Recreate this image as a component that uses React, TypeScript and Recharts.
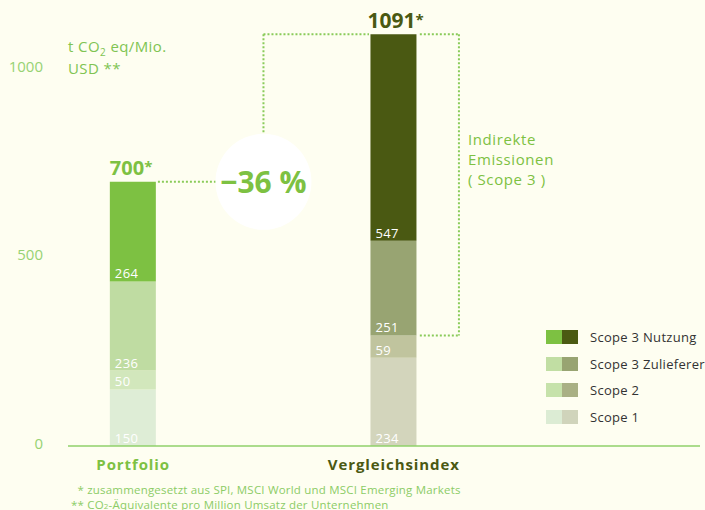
import React from 'react';
import { BarChart, Bar, XAxis, YAxis, Cell, LabelList, ReferenceLine, ReferenceDot } from 'recharts';

// ---- data ----
const categories = ['Portfolio', 'Vergleichsindex'];
const categoryPos = [1, 5];
const scope1 = [150, 234];
const scope2 = [50, 59];
const scope3Supply = [236, 251];
const scope3Use = [264, 547];
const totals = [700, 1091];
const yTicks = [0, 500, 1000];
const reductionLabel = '−36 %';
const legendNames = ['Scope 3 Nutzung', 'Scope 3 Zulieferer', 'Scope 2', 'Scope 1'];
const footnote1 = 'zusammengesetzt aus SPI, MSCI World und MSCI Emerging Markets';
const footnote2a = 'CO';
const footnote2b = '-Äquivalente pro Million Umsatz der Unternehmen';
const indirectLines = ['Indirekte', 'Emissionen', '( Scope 3 )'];

// ---- styles ----
const FONT = '"Open Sans", "Noto Sans", sans-serif';
const BG = '#fefef1';
const GREEN = '#7dc142';
const OLIVE = '#4a5912';
const TICK = '#97d273';
const DOT = '#8acb5a';
const colS1 = ['#deedd6', '#d3d5bc'];
const colS2 = ['#d2e7bc', '#c0c49e'];
const colSup = ['#bfdca2', '#98a472'];
const colUse = ['#7dc142', '#4a5912'];
const legendColors = [
  ['#7dc142', '#4b5a12'],
  ['#c1dea3', '#98a472'],
  ['#c6e2aa', '#a9b084'],
  ['#dcecd4', '#d0d4bb'],
];
const catColors = [GREEN, OLIVE];

const data = categories.map((name, i) => ({
  name,
  x: categoryPos[i],
  s1: scope1[i],
  s2: scope2[i],
  sup: scope3Supply[i],
  use: scope3Use[i],
  total: totals[i],
}));

// annotation anchors (data space)
const circleX = 3.0;
const circleY = totals[0];
const bracketX = 6.0;
const bracketBottom = scope1[1] + scope2[1];

const ValueLabel = (props: any) => {
  const { x, y, height, value } = props;
  return (
    <text x={Number(x) + 5} y={Number(y) + Number(height) - 3} fill="#ffffff" fontSize={13} letterSpacing={0.4} fontFamily={FONT}>
      {value}
    </text>
  );
};

const TotalLabel = (props: any) => {
  const { x, y, index } = props;
  const big = index === 1;
  return (
    <text
      x={Number(x) + (big ? -3 : 0)}
      y={Number(y) - (big ? 6 : 7)}
      fill={catColors[index]}
      fontSize={big ? 21 : 20}
      fontWeight={700}
      fontFamily={FONT}
    >
      {totals[index]}
      <tspan fontSize={15} dy={-3}>*</tspan>
    </text>
  );
};

const XTick = (props: any) => {
  const { x, y, payload } = props;
  const i = categoryPos.indexOf(payload.value);
  return (
    <text x={x} y={Number(y) + 22} textAnchor="middle" fill={catColors[i]} fontSize={15} letterSpacing={0.9} fontWeight={700} fontFamily={FONT}>
      {categories[i]}
    </text>
  );
};

const YTick = (props: any) => {
  const { x, y, payload } = props;
  return (
    <text x={x} y={Number(y) + 3} textAnchor="end" fill={TICK} fontSize={15} fontFamily={FONT}>
      {payload.value}
    </text>
  );
};

const CircleShape = (props: any) => {
  const { cx, cy } = props;
  return (
    <g>
      <circle cx={cx} cy={cy} r={48} fill="#ffffff" />
      <text x={cx} y={Number(cy) + 11} textAnchor="middle" fill={GREEN} fontSize={30} fontWeight={700} fontFamily={FONT}>
        {reductionLabel}
      </text>
    </g>
  );
};

const dotted = { stroke: DOT, strokeWidth: 2, strokeDasharray: '2 2' };

export default function App() {
  return (
    <div style={{ position: 'absolute', left: 0, top: 0, width: 705, height: 510, background: BG, fontFamily: FONT, overflow: 'hidden' }}>
      <BarChart width={705} height={510} data={data} margin={{ top: 12, right: 5, left: 8, bottom: 34 }} barSize={46}>
        <XAxis
          type="number"
          dataKey="x"
          domain={[0, 9.7]}
          ticks={categoryPos}
          interval={0}
          tickLine={false}
          tickSize={0}
          height={30}
          axisLine={{ stroke: '#8fd06a', strokeWidth: 1.5 }}
          tick={<XTick />}
        />
        <YAxis
          type="number"
          domain={[0, 1150]}
          ticks={yTicks}
          width={60}
          tickLine={false}
          axisLine={false}
          tickSize={0}
          tickMargin={25}
          tick={<YTick />}
        />
        <ReferenceLine segment={[{ x: 1.38, y: circleY }, { x: 2.27, y: circleY }]} {...dotted} ifOverflow="visible" />
        <ReferenceLine segment={[{ x: circleX, y: totals[1] }, { x: circleX, y: 828 }]} {...dotted} ifOverflow="visible" />
        <ReferenceLine segment={[{ x: circleX, y: totals[1] }, { x: 4.62, y: totals[1] }]} {...dotted} ifOverflow="visible" />
        <ReferenceLine segment={[{ x: 5.4, y: totals[1] }, { x: bracketX, y: totals[1] }]} {...dotted} ifOverflow="visible" />
        <ReferenceLine segment={[{ x: bracketX, y: totals[1] }, { x: bracketX, y: bracketBottom }]} {...dotted} ifOverflow="visible" />
        <ReferenceLine segment={[{ x: 5.4, y: bracketBottom }, { x: bracketX, y: bracketBottom }]} {...dotted} ifOverflow="visible" />
        <ReferenceDot x={circleX} y={circleY} r={48} shape={<CircleShape />} ifOverflow="visible" />
        <Bar dataKey="s1" stackId="a" isAnimationActive={false}>
          {data.map((_, i) => <Cell key={i} fill={colS1[i]} />)}
          <LabelList dataKey="s1" content={<ValueLabel />} />
        </Bar>
        <Bar dataKey="s2" stackId="a" isAnimationActive={false}>
          {data.map((_, i) => <Cell key={i} fill={colS2[i]} />)}
          <LabelList dataKey="s2" content={<ValueLabel />} />
        </Bar>
        <Bar dataKey="sup" stackId="a" isAnimationActive={false}>
          {data.map((_, i) => <Cell key={i} fill={colSup[i]} />)}
          <LabelList dataKey="sup" content={<ValueLabel />} />
        </Bar>
        <Bar dataKey="use" stackId="a" isAnimationActive={false}>
          {data.map((_, i) => <Cell key={i} fill={colUse[i]} />)}
          <LabelList dataKey="use" content={<ValueLabel />} />
          <LabelList dataKey="total" content={<TotalLabel />} />
        </Bar>
      </BarChart>

      {/* unit label */}
      <div style={{ position: 'absolute', left: 68, top: 36, color: '#80c452', fontSize: 15, letterSpacing: 0.4, lineHeight: '20px' }}>
        <div>t CO<span style={{ fontSize: 10, position: 'relative', top: 4 }}>2</span> eq/Mio.</div>
        <div>USD **</div>
      </div>

      {/* indirect emissions text */}
      <div style={{ position: 'absolute', left: 468, top: 129, color: GREEN, fontSize: 15, letterSpacing: 0.6, lineHeight: '20px' }}>
        {indirectLines.map((t, i) => <div key={i}>{t}</div>)}
      </div>

      {/* legend */}
      <div style={{ position: 'absolute', left: 546, top: 324 }}>
        {legendNames.map((n, i) => (
          <div key={n} style={{ display: 'flex', alignItems: 'center', height: 26.5 }}>
            <span style={{ width: 16, height: 14, background: legendColors[i][0], display: 'inline-block' }} />
            <span style={{ width: 16, height: 14, background: legendColors[i][1], display: 'inline-block' }} />
            <span style={{ marginLeft: 12, fontSize: 13, letterSpacing: 0.3, color: '#333333' }}>{n}</span>
          </div>
        ))}
      </div>

      {/* footnotes */}
      <div style={{ position: 'absolute', left: 66, top: 482, color: '#8ccc66', fontSize: 11.5, letterSpacing: 0.2, lineHeight: '15px', whiteSpace: 'nowrap' }}>
        <div style={{ height: 15 }}><span style={{ display: 'inline-block', width: 18, textAlign: 'right' }}>*</span> {footnote1}</div>
        <div style={{ height: 15 }}><span style={{ display: 'inline-block', width: 18, textAlign: 'right' }}>**</span> {footnote2a}<span style={{ fontSize: 8 }}>2</span>{footnote2b}</div>
      </div>
    </div>
  );
}
